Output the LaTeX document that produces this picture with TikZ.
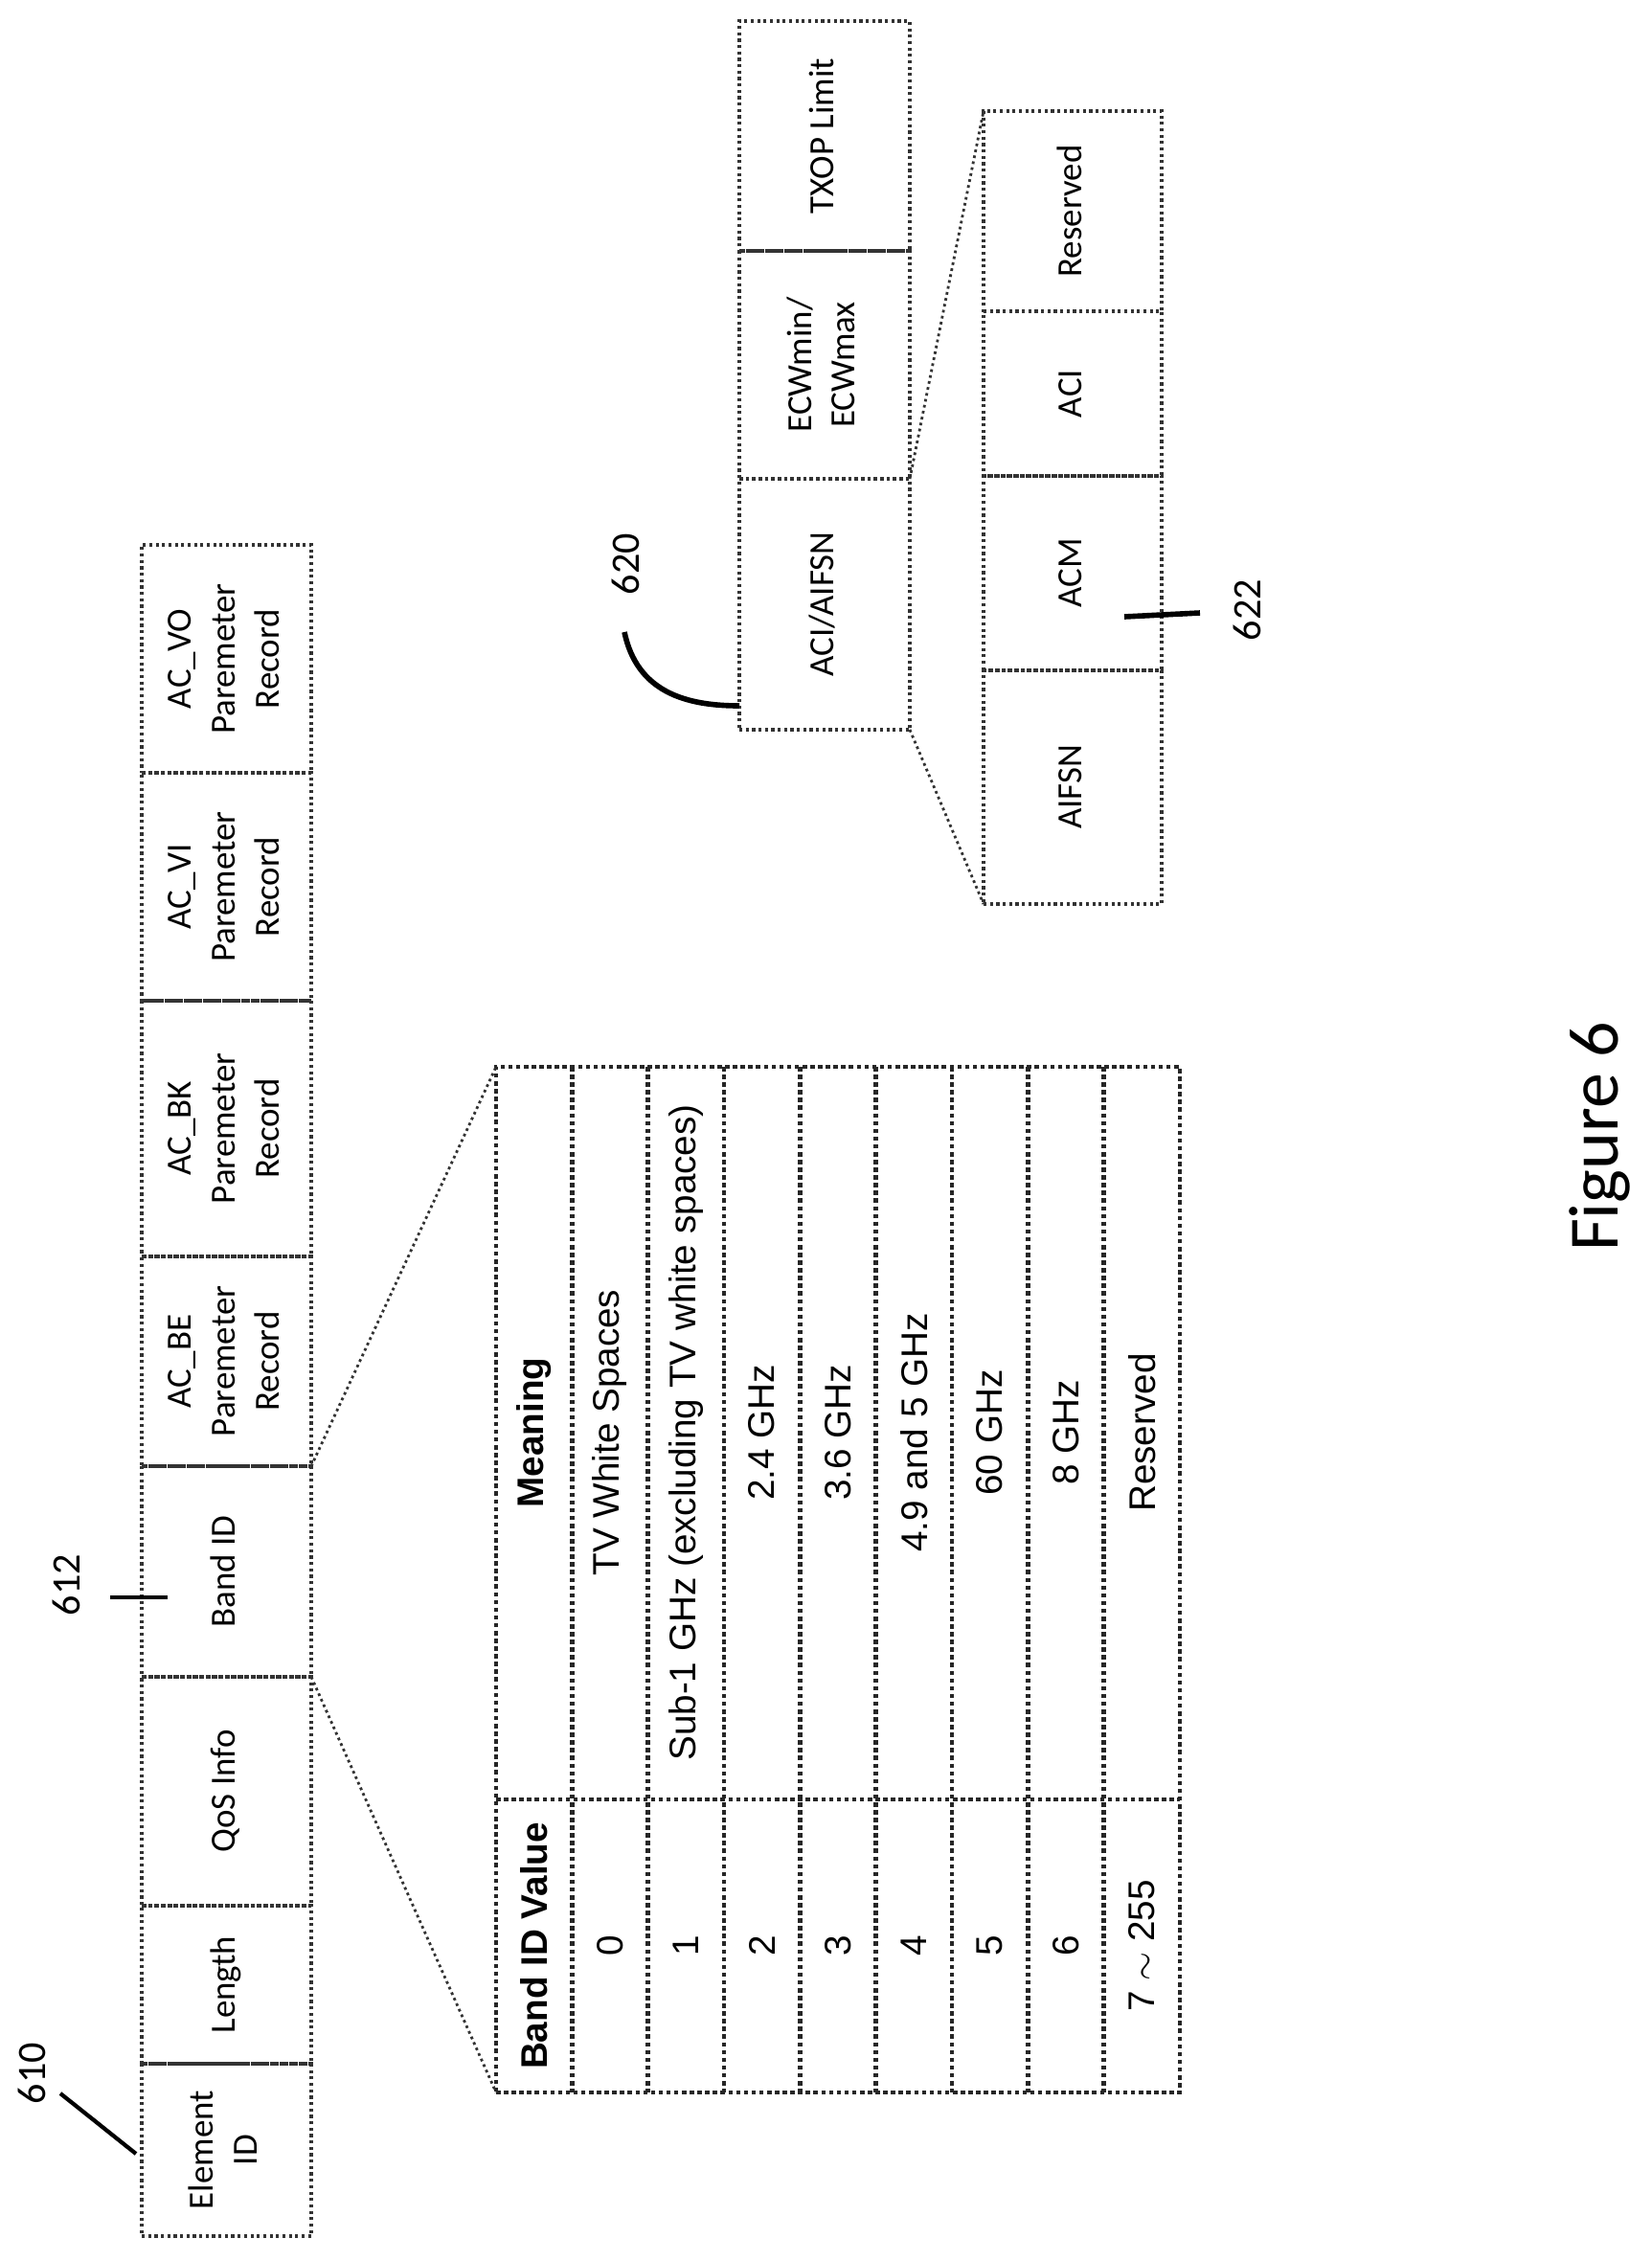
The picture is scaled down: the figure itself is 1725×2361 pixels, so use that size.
\documentclass[tikz,border=0pt]{standalone}
\usepackage{fontspec}
\setmainfont{Carlito}
\newfontfamily\tabfont{Liberation Sans}
\usepackage{tikz}
\usetikzlibrary{positioning}

\newcommand{\vtext}[1]{\rotatebox{90}{\begin{tabular}{@{}c@{}}#1\end{tabular}}}

\begin{document}
\begin{tikzpicture}[x=0.1mm, y=-0.1mm]
  \tikzstyle{fld} = [rectangle, draw=black!80, densely dotted, line width=0.9pt, inner sep=0pt, outer sep=0pt, font=\fontsize{10.5}{13}\selectfont]
  \tikzstyle{tline} = [draw=black!85, densely dotted, line width=1.3pt]
  \tikzstyle{zoomline} = [draw=black!80, densely dotted, line width=0.8pt]
  \tikzstyle{cell} = [font=\tabfont\fontsize{11}{13}\selectfont, inner sep=0pt]
  \tikzstyle{ref} = [font=\fontsize{12}{14}\selectfont, rotate=90]
  \tikzstyle{lead} = [line width=1.2pt]
  \useasboundingbox (0,0) rectangle (1725,2361);

  % element fields
  \foreach \n/\a/\b/\t in {vo/569/807/{AC\_VO\\Paremeter\\Record},
      vi/807/1045/{AC\_VI\\Paremeter\\Record},
      bk/1045/1312/{AC\_BK\\Paremeter\\Record},
      be/1312/1531/{AC\_BE\\Paremeter\\Record},
      band/1531/1751/{Band ID},
      qos/1751/1990/{QoS Info},
      len/1990/2155/{Length},
      eid/2155/2335/{Element\\ID}}
    \node[fld, minimum width=17.7mm, minimum height={(\b-\a)*0.1mm}] (\n) at (236.5,{(\a+\b)/2}) {\vtext{\t}};

  % band id table
  \node[tline, rectangle, inner sep=0pt, outer sep=0pt, minimum width=71.4mm, minimum height=107.1mm] (tbl) at (875,1649.5) {};
  \foreach \k in {1,...,8}
    \draw[tline] ({518+79.33*\k},1114) -- ({518+79.33*\k},2185);
  \draw[tline] (518,1879) -- (1232,1879);
  \foreach \k/\v/\m in {0/{\textbf{Band ID Value}}/{\textbf{Meaning}},
      1/0/{TV White Spaces}, 2/1/{Sub-1 GHz (excluding TV white spaces)},
      3/2/{2.4 GHz}, 4/3/{3.6 GHz}, 5/4/{4.9 and 5 GHz},
      6/5/{60 GHz}, 7/6/{8 GHz}, 8/{7 $\sim$ 255}/{Reserved}} {
    \node[cell] (val\k) at ({518+79.33*(\k+0.5)},2032) {\rotatebox{90}{\v}};
    \node[cell] (mean\k) at ({518+79.33*(\k+0.5)},1496) {\rotatebox{90}{\m}};
  }
  \draw[zoomline] (band.north east) -- (tbl.north west);
  \draw[zoomline] (band.south east) -- (tbl.south west);

  % parameter record fields
  \foreach \n/\a/\b/\t in {txop/22/262/{TXOP Limit},
      ecw/262/500/{ECWmin/\\ECWmax},
      aci/500/762/{ACI/AIFSN}}
    \node[fld, minimum width=17.8mm, minimum height={(\b-\a)*0.1mm}] (\n) at (861,{(\a+\b)/2}) {\vtext{\t}};
  \foreach \n/\a/\b/\t in {res/116/325/{Reserved},
      acibit/325/497/{ACI},
      acm/497/700/{ACM},
      aifsn/700/944/{AIFSN}}
    \node[fld, minimum width=18.6mm, minimum height={(\b-\a)*0.1mm}] (\n) at (1120,{(\a+\b)/2}) {\vtext{\t}};
  \draw[zoomline] (aci.north east) -- (res.north west);
  \draw[zoomline] (aci.south east) -- (aifsn.south west);

  % reference numerals
  \node[ref] (r610) at (33,2165) {610};
  \coordinate (c610) at (142,2249);
  \draw[lead] (63,2186) -- (c610);
  \node[ref] (r612) at (69,1655) {612};
  \coordinate (c612a) at (115,1668);
  \coordinate (c612b) at (175,1668);
  \draw[lead] (c612a) -- (c612b);
  \node[ref] (r620) at (653,589) {620};
  \coordinate (c620) at (652,660);
  \draw[lead, line width=1.6pt] (c620) .. controls (665,722) and (715,737) .. (aci.west |- 0,737);
  \node[ref] (r622) at (1302,637) {622};
  \coordinate (c622a) at (1174,644);
  \coordinate (c622b) at (1253,640);
  \draw[lead, line width=1.6pt] (c622a) -- (c622b);

  \node[rotate=90, font=\fontsize{21}{25}\selectfont] (fig) at (1670,1187) {Figure 6};
\end{tikzpicture}
\end{document}
